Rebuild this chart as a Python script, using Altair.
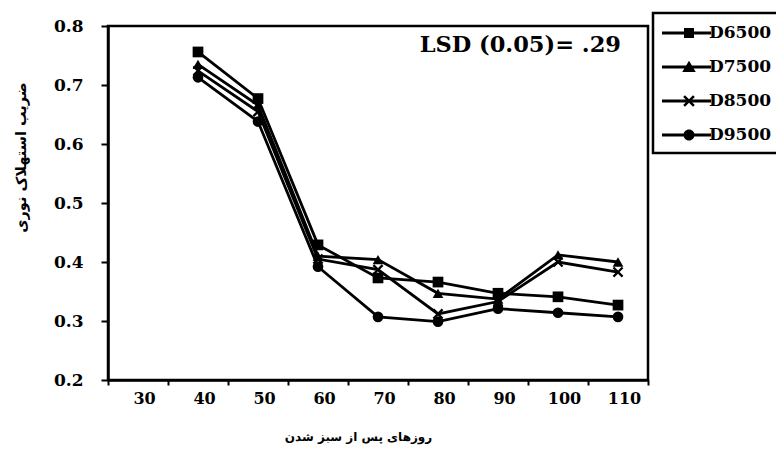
import altair as alt
import pandas as pd

categories = ["30", "40", "50", "60", "70", "80", "90", "100", "110"]
days = ["40", "50", "60", "70", "80", "90", "100", "110"]
series = ["D6500", "D7500", "D8500", "D9500"]
D6500 = [0.756, 0.677, 0.429, 0.373, 0.366, 0.347, 0.341, 0.327]
D7500 = [0.735, 0.666, 0.410, 0.404, 0.347, 0.337, 0.412, 0.400]
D8500 = [0.724, 0.655, 0.405, 0.387, 0.312, 0.333, 0.400, 0.383]
D9500 = [0.713, 0.638, 0.392, 0.307, 0.299, 0.321, 0.314, 0.307]
y_ticks = [0.2, 0.3, 0.4, 0.5, 0.6, 0.7, 0.8]
lsd_label = ["LSD (0.05)= .29"]
x_title = "روزهای پس از سبز شدن"
y_title = "ضریب استهلاک نوری"

rows = []
for name, vals in zip(series, [D6500, D7500, D8500, D9500]):
    for d, v in zip(days, vals):
        rows.append({"day": d, "value": v, "series": name})
df = pd.DataFrame(rows)

# marker shapes
x_unit = [(-1, -0.7), (-0.7, -1), (0, -0.3), (0.7, -1), (1, -0.7), (0.3, 0),
          (1, 0.7), (0.7, 1), (0, 0.3), (-0.7, 1), (-1, 0.7), (-0.3, 0)]


def poly(points, scale=1.0, dx=0.0):
    pts = [f"{px * scale + dx:.3f},{py * scale:.3f}" for px, py in points]
    return "M" + "L".join(pts) + "Z"


x_path = poly(x_unit)
plot_shapes = ["square", "triangle-up", x_path, "circle"]

# legend symbols: line through marker (unit = 10px with symbolSize 400)
seg = "M-1.1,-0.15H3.8V0.15H-1.1Z"
mc = 1.6
leg_shapes = [
    seg + f"M{mc-0.5},-0.5H{mc+0.5}V0.5H{mc-0.5}Z",
    seg + f"M{mc},-0.62L{mc+0.68},0.5H{mc-0.68}Z",
    seg + poly(x_unit, 0.58, mc),
    seg + f"M{mc-0.55},0A0.55,0.55 0 1,1 {mc+0.55},0A0.55,0.55 0 1,1 {mc-0.55},0Z",
]

x_enc = alt.X(
    "day:O",
    sort=categories,
    bandPosition=0.5,
    scale=alt.Scale(type="band", domain=categories, paddingInner=0, paddingOuter=0),
    axis=alt.Axis(
        title=x_title, tickBand="extent", labelAngle=0, labelFontSize=16,
        labelPadding=5, tickSize=5, labelOffset=6,
        titleFont="DejaVu Sans", titleFontSize=12, titleFontWeight="bold",
        titlePadding=25, titleX=250,
    ),
)
y_enc = alt.Y(
    "value:Q",
    scale=alt.Scale(domain=[0.2, 0.8], nice=False, zero=False),
    axis=alt.Axis(
        title=y_title, values=y_ticks, format=".1f", labelFontSize=17,
        tickSize=7, labelPadding=18, grid=False,
        titleFont="DejaVu Sans", titleFontSize=14.5, titleFontWeight="bold",
        titleX=-87, titleY=131, titleAlign="center", titleBaseline="middle",
    ),
)

lines = alt.Chart(df).mark_line(color="black", strokeWidth=2.8).encode(
    x=x_enc, y=y_enc, detail="series:N"
)

points = alt.Chart(df).mark_point(filled=True, color="black", opacity=1, size=115).encode(
    x=x_enc, y=y_enc,
    shape=alt.Shape("series:N", scale=alt.Scale(domain=series, range=plot_shapes), legend=None),
)

legend_layer = alt.Chart(df).transform_filter("false").mark_point(
    filled=True, color="black", opacity=1
).encode(
    x=x_enc, y=y_enc,
    shape=alt.Shape(
        "series:N",
        scale=alt.Scale(domain=series, range=leg_shapes),
        legend=alt.Legend(title=None, orient="none", legendX=545, legendY=-13),
    ),
)

lsd = alt.Chart(pd.DataFrame({"t": lsd_label})).mark_text(
    align="right", baseline="middle", font="DejaVu Serif", fontWeight="bold",
    fontSize=22.5, color="black",
).encode(x=alt.value(513), y=alt.value(19), text="t:N")

chart = alt.layer(lines, points, legend_layer, lsd).resolve_scale(
    shape="independent"
).properties(
    width=540, height=354, background="white",
    autosize=alt.AutoSizeParams(type="none"),
    padding={"left": 100, "top": 18, "right": 128, "bottom": 70},
).configure_view(
    stroke="black", strokeWidth=2.5
).configure_axis(
    labelFont="DejaVu Serif", labelFontWeight="bold", labelColor="black",
    domainColor="black", domainWidth=2.5, tickColor="black", tickWidth=2,
    titleColor="black",
).configure_legend(
    strokeColor="black", strokeWidth=2.5, fillColor="white", padding=10,
    symbolSize=400, symbolFillColor="black", symbolStrokeColor="black",
    symbolStrokeWidth=0, symbolOpacity=1,
    labelFont="DejaVu Serif", labelFontWeight="bold", labelFontSize=17,
    labelColor="black", labelOffset=26, rowPadding=16,
)

chart.save("out.html", embed_options={"renderer": "svg", "actions": False})
